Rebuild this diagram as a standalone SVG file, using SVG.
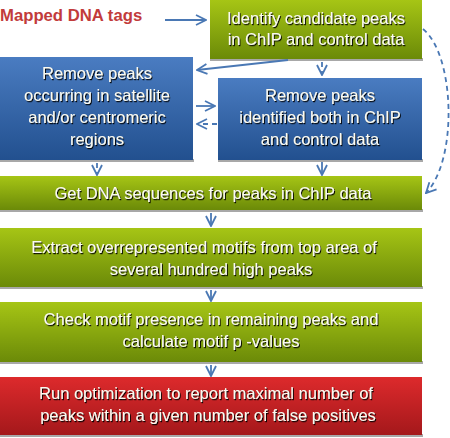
<svg xmlns="http://www.w3.org/2000/svg" width="450" height="438" viewBox="0 0 450 438">
<defs>
<linearGradient id="gGreen" x1="0" y1="0" x2="0" y2="1">
<stop offset="0" stop-color="#a6c515"/><stop offset="1" stop-color="#6b8a08"/>
</linearGradient>
<linearGradient id="gBlue" x1="0" y1="0" x2="0" y2="1">
<stop offset="0" stop-color="#4a7cc1"/><stop offset="1" stop-color="#22508f"/>
</linearGradient>
<linearGradient id="gRed" x1="0" y1="0" x2="0" y2="1">
<stop offset="0" stop-color="#dd2a2c"/><stop offset="1" stop-color="#a4181b"/>
</linearGradient>
<filter id="ts" x="-10%" y="-20%" width="120%" height="150%">
<feDropShadow dx="1" dy="1.2" stdDeviation="0.4" flood-color="#000" flood-opacity="0.95"/>
</filter>
<marker id="ah" viewBox="0 0 12 12" refX="11" refY="6" markerWidth="12" markerHeight="12" markerUnits="userSpaceOnUse" orient="auto">
<path d="M1,1 L11,6 L1,11" fill="none" stroke="#4a78b4" stroke-width="1.8"/>
</marker>
</defs>
<style>
.box text{font-family:"Liberation Sans",Arial,sans-serif;font-size:16.5px;fill:#fbfbf2;text-anchor:middle;filter:url(#ts)}
.sh{fill:#a8a8a8}
.conn path{fill:none;stroke:#4a78b4;stroke-width:1.8;marker-end:url(#ah)}
.conn .d{stroke-dasharray:5 4}
</style>
<text x="0" y="21" font-family="'Liberation Sans',Arial,sans-serif" font-size="16.7" font-weight="bold" fill="#c23b3b">Mapped DNA tags</text>
<g id="n1" class="box">
<rect class="sh" x="210" y="58" width="213" height="3"/>
<rect x="210" y="0" width="212" height="59" fill="url(#gGreen)"/>
<text x="316" y="24">Identify candidate peaks</text>
<text x="316" y="45">in ChIP and control data</text>
</g>
<g id="n2" class="box">
<rect class="sh" x="0" y="159" width="194" height="3"/>
<rect x="0" y="57" width="193" height="103" fill="url(#gBlue)"/>
<text x="97" y="79">Remove peaks</text>
<text x="97" y="101">occurring in satellite</text>
<text x="97" y="123">and/or centromeric</text>
<text x="97" y="145">regions</text>
</g>
<g id="n3" class="box">
<rect class="sh" x="218" y="159" width="205" height="3"/>
<rect x="218" y="78" width="204" height="82" fill="url(#gBlue)"/>
<text x="320" y="101">Remove peaks</text>
<text x="320" y="123">identified both in ChIP</text>
<text x="320" y="145">and control data</text>
</g>
<g id="n4" class="box">
<rect class="sh" x="0" y="209" width="423" height="3"/>
<rect x="0" y="176" width="422" height="34" fill="url(#gGreen)"/>
<text x="213" y="199">Get DNA sequences for peaks in ChIP data</text>
</g>
<g id="n5" class="box">
<rect class="sh" x="0" y="286" width="423" height="3"/>
<rect x="0" y="228" width="422" height="59" fill="url(#gGreen)"/>
<text x="204" y="253">Extract overrepresented motifs from top area of</text>
<text x="211" y="275">several hundred high peaks</text>
</g>
<g id="n6" class="box">
<rect class="sh" x="0" y="361" width="423" height="3"/>
<rect x="0" y="302" width="422" height="60" fill="url(#gGreen)"/>
<text x="211" y="325">Check motif presence in remaining peaks and</text>
<text x="211" y="347">calculate motif p -values</text>
</g>
<g id="n7" class="box">
<rect class="sh" x="0" y="434" width="423" height="3"/>
<rect x="0" y="377" width="422" height="58" fill="url(#gRed)"/>
<text x="206" y="399">Run optimization to report maximal number of</text>
<text x="208" y="421">peaks within a given number of false positives</text>
</g>
<g id="connectors" class="conn">
<path d="M165,20 L206,20"/>
<path d="M288,60 L197,70"/>
<path class="d" d="M322,62 L322,75"/>
<path d="M196,106 L215,106"/>
<path class="d" d="M217,124 L197,124"/>
<path class="d" d="M97,163 L97,175"/>
<path d="M322,162 L322,175"/>
<path class="d" d="M423,29 C455,55 458,160 426,193"/>
<path d="M211,213 L211,226"/>
<path d="M211,290 L211,301"/>
<path d="M211,365 L211,376"/>
</g>
</svg>
